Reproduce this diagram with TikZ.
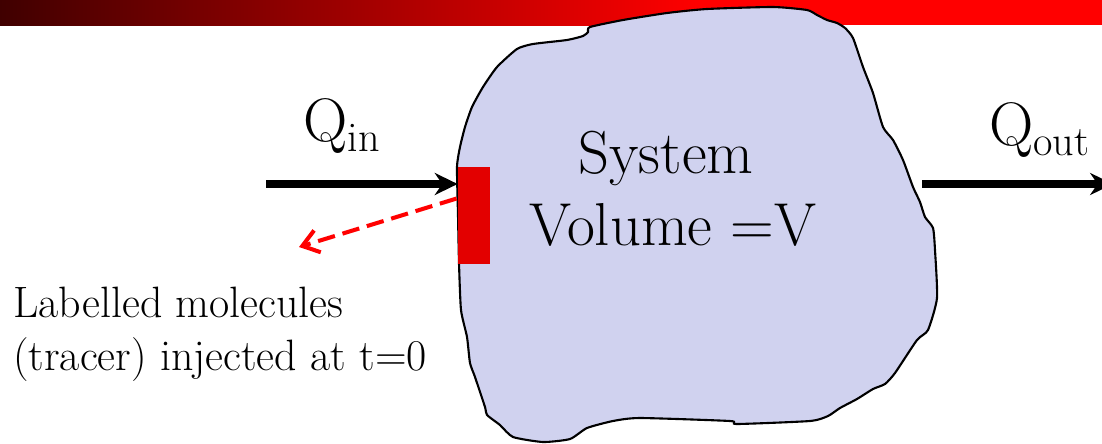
\documentclass[tikz,border=0pt]{standalone}
\usepackage{fontspec}
\usepackage{tikz}
\usetikzlibrary{arrows.meta,positioning,calc}
\usepackage{xcolor}
\definecolor{BarDark}{HTML}{400000}
\definecolor{BarRed}{HTML}{FF0000}
\definecolor{SysFill}{HTML}{D0D2EF}
\definecolor{TracerRed}{HTML}{E30000}
\newcommand{\flowsub}[1]{\raisebox{-6.2pt}{\fontsize{24}{24}\selectfont #1}}

\begin{document}
\begin{tikzpicture}[x=0.02cm,y=-0.02cm,
  bigtext/.style={inner sep=0pt,anchor=base,font=\fontsize{34.5}{40}\selectfont},
  flowtext/.style={inner sep=0pt,anchor=base west,font=\fontsize{35}{40}\selectfont},
  notetext/.style={inner sep=0pt,anchor=base west,font=\fontsize{25}{30}\selectfont},
  flowarrow/.style={-{Stealth[length=13pt,width=12.5pt]},line width=4pt},
  tracerarrow/.style={-{Straight Barb[length=9pt,width=13pt]},BarRed,line width=2.3pt,dash pattern=on 10pt off 4.5pt}]
\useasboundingbox (0,0) rectangle (1102,443);
\shade[left color=BarDark,right color=BarRed] (0,0) rectangle (700,25);
\fill[BarRed] (700,0) rectangle (1102,25);
\draw[fill=SysFill,line width=1.2pt] plot[smooth cycle,tension=0.35] coordinates {
  (457,167) (460,147) (465,127) (472,107) (483,87) (497,67) (517,49) (533,44)
  (567,40) (583,36) (588,32) (590,27) (623,20) (667,13) (707,9) (773,7)
  (807,10) (817,15) (827,20) (837,23) (845,28) (853,38) (863,67) (873,93)
  (883,127) (893,140) (903,160) (913,187) (920,202) (925,217) (933,228) (935,250)
  (937,298) (928,330) (917,340) (895,373) (885,384) (873,389) (857,399) (840,408)
  (828,416) (810,421) (737,424) (730,421) (640,418) (613,421) (587,428) (570,439)
  (543,442) (513,437) (500,425) (487,415) (485,407) (475,377) (470,363) (467,337)
  (461,310) (459,263) (458,215)};
\node[rectangle,inner sep=0pt,minimum width=0.64cm,minimum height=1.94cm,fill=TracerRed] (tracer) at (474,215.5) {};
\coordinate (qinstart) at (266,184);
\coordinate (qoutstart) at (922,184);
\coordinate (qoutend) at (1113,184);
\coordinate (tracerend) at (299,247);
\draw[flowarrow] (qinstart) -- (qinstart -| tracer.west);
\draw[flowarrow] (qoutstart) -- (qoutend);
\draw[tracerarrow] ($(tracer.west)+(-1,-17)$) -- (tracerend);
\node[flowtext] (qin) at (303,141) {Q\flowsub{in}};
\node[flowtext] (qout) at (989,145) {Q\flowsub{out}};
\node[bigtext] (sysname) at (666,173) {System};
\node[bigtext] (sysvol) at (673,245) {Volume =V};
\node[notetext] (note1) at (13,317) {Labelled molecules};
\node[notetext] (note2) at (13,370) {(tracer) injected at t=0};
\end{tikzpicture}
\end{document}
